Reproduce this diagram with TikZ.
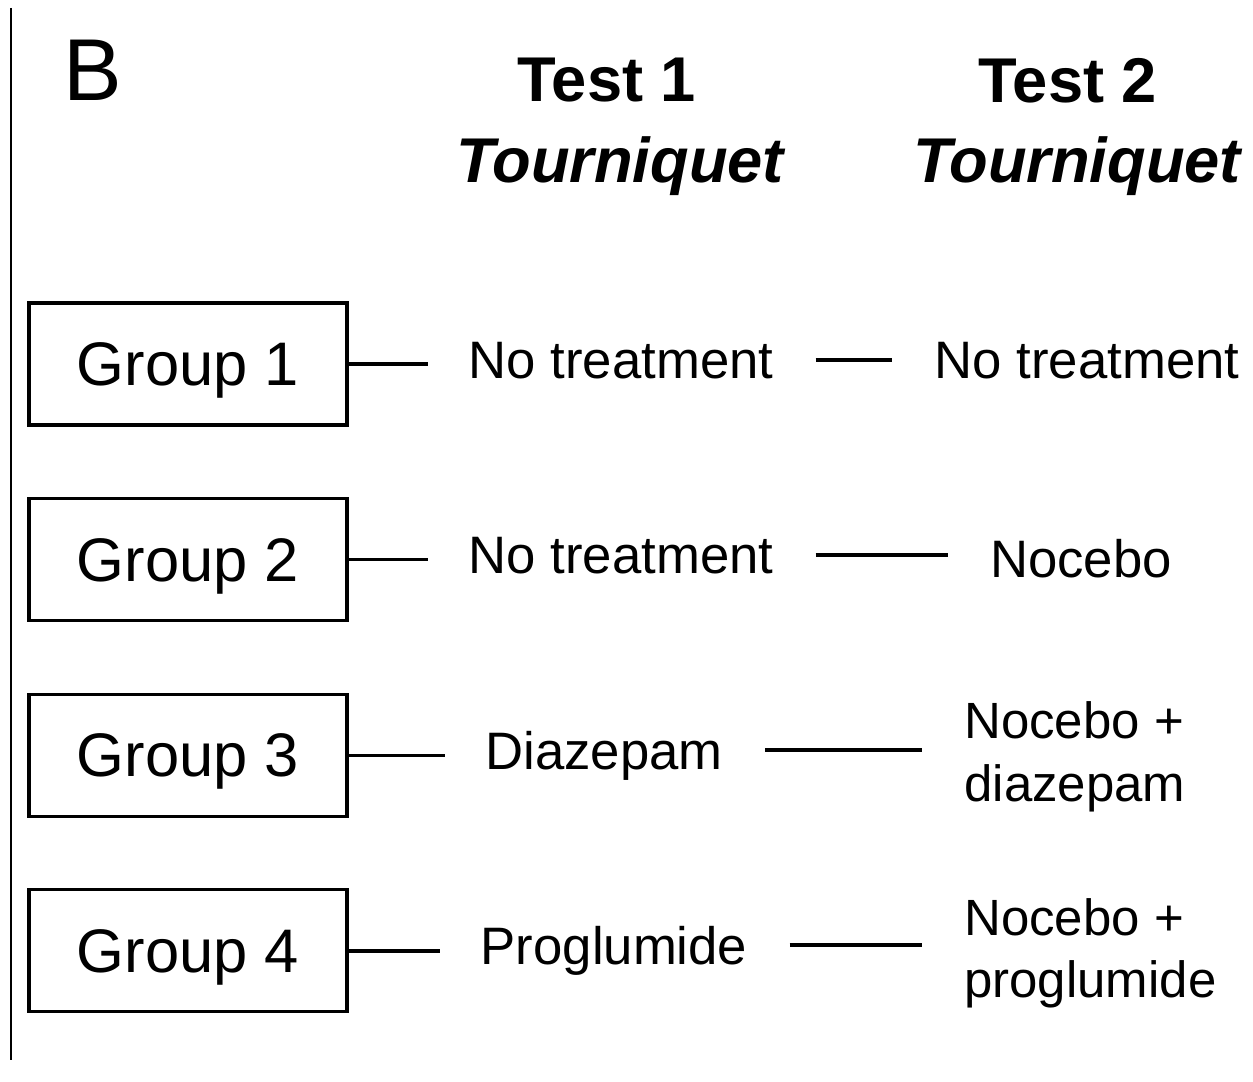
\documentclass[tikz,border=0pt]{standalone}
\usepackage{fontspec}
\setmainfont{Liberation Sans}
\usetikzlibrary{positioning}

\begin{document}
\begin{tikzpicture}[
  x=0.02cm, y=-0.02cm,
  grp/.style={draw, line width=1.8pt, minimum width=6.36cm, minimum height=2.44cm, inner sep=0pt, text depth=0pt, font=\fontsize{35}{42}\selectfont},
  head/.style={inner sep=0pt, text depth=0pt, font=\fontsize{36}{43}\selectfont\bfseries},
  treat/.style={inner sep=0pt, text depth=0pt, font=\fontsize{30}{36}\selectfont},
  drug/.style={inner sep=0pt, align=left, anchor=west, font=\fontsize{29}{35.5}\selectfont},
  link/.style={line width=2pt, shorten <=0.84cm, shorten >=0.84cm}
]
\useasboundingbox (0,0) rectangle (1253,1081);
\draw[line width=1.1pt] (11,8) -- (11,1060);

\node[inner sep=0pt, font=\fontsize{50}{60}\selectfont] (panel) at (93,70) {B};
\node[head] (t1) at (607,80) {Test 1};
\node[head, font=\fontsize{36}{43}\selectfont\bfseries\itshape] (tq1) at (620,160) {Tourniquet};
\node[head] (t2) at (1068,80) {Test 2};
\node[head, font=\fontsize{36}{43}\selectfont\bfseries\itshape] (tq2) at (1077,160) {Tourniquet};

\node[grp] (g1) at (188,364) {Group 1};
\node[grp, below=1.41cm of g1] (g2) {Group 2};
\node[grp, below=1.41cm of g2] (g3) {Group 3};
\node[grp, below=1.41cm of g3] (g4) {Group 4};

\node[treat] (m1) at (621,360) {No treatment};
\node[treat] (m2) at (621,555) {No treatment};
\node[treat] (m3) at (604,750) {Diazepam};
\node[treat] (m4) at (614,945) {Proglumide};

\node[treat] (r1) at (1087,360) {No treatment};
\node[treat] (r2) at (1081,558) {Nocebo};
\node[drug] (r3) at (964,757) {Nocebo +\\diazepam};
\node[drug] (r4) at (964,953) {Nocebo +\\proglumide};

\foreach \i in {1,...,4}{
  \draw[line width=2pt, shorten >=0.8cm] (g\i.east) -- (g\i.east -| m\i.west);
  \draw[link] (m\i.east) -- (m\i.east -| r\i.west);
}
\end{tikzpicture}
\end{document}
